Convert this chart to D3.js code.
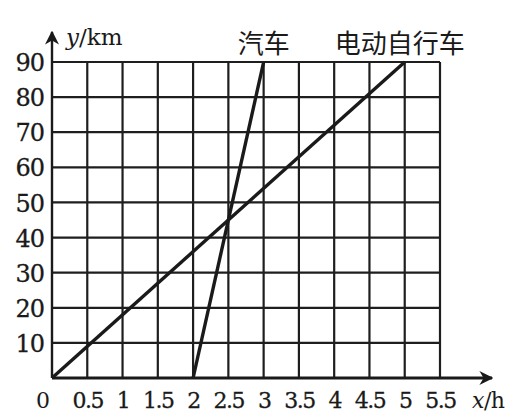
<!DOCTYPE html>
<html>
<head>
<meta charset="utf-8">
<style>
  body { margin: 0; background: #fff; }
  svg { display: block; }
  .axis .domain { display: none; }
  .grid line { stroke: #1e1e1e; stroke-width: 2.2; }
</style>
</head>
<body>
<script src="https://d3js.org/d3.v7.min.js"></script>
<script>
// data
var xTicks = [0.5, 1, 1.5, 2, 2.5, 3, 3.5, 4, 4.5, 5, 5.5];
var yTicks = [10, 20, 30, 40, 50, 60, 70, 80, 90];
var xTickLabels = ["0.5", "1", "1.5", "2", "2.5", "3", "3.5", "4", "4.5", "5", "5.5"];
var seriesNames = ["汽车", "电动自行车"];
var carX = [2, 3], carY = [0, 90];
var bikeX = [0, 5], bikeY = [0, 90];

var W = 516, H = 417;
var margin = {top: 62, right: 76, bottom: 39, left: 52},
    width = W - margin.left - margin.right,
    height = H - margin.top - margin.bottom;
var serif = "'DejaVu Serif', 'Liberation Serif', serif";

var svg = d3.select("body").append("svg")
    .attr("width", W)
    .attr("height", H);

svg.append("defs").append("marker")
    .attr("id", "arrow")
    .attr("viewBox", "0 0 10 10")
    .attr("refX", 9).attr("refY", 5)
    .attr("markerWidth", 14).attr("markerHeight", 14)
    .attr("markerUnits", "userSpaceOnUse")
    .attr("orient", "auto")
  .append("path")
    .attr("d", "M0,0 L10,5 L0,10 L3,5 Z")
    .attr("fill", "#1a1a1a");

var g = svg.append("g")
    .attr("transform", "translate(" + margin.left + "," + margin.top + ")");

var x = d3.scaleLinear().domain([0, 5.5]).range([0, width]);
var y = d3.scaleLinear().domain([0, 90]).range([height, 0]);

// grid
var grid = g.append("g").attr("class", "grid");
grid.selectAll(".v").data(xTicks).enter().append("line")
    .attr("x1", function(d) { return x(d); })
    .attr("x2", function(d) { return x(d); })
    .attr("y1", y(0)).attr("y2", y(90));
grid.selectAll(".h").data(yTicks).enter().append("line")
    .attr("x1", x(0)).attr("x2", x(5.5))
    .attr("y1", function(d) { return y(d); })
    .attr("y2", function(d) { return y(d); });

// axes with arrows
g.append("line")
    .attr("x1", x(0)).attr("y1", y(0))
    .attr("x2", x(0)).attr("y2", y(0) - 346)
    .attr("stroke", "#1a1a1a").attr("stroke-width", 2.4)
    .attr("marker-end", "url(#arrow)");
g.append("line")
    .attr("x1", x(0)).attr("y1", y(0))
    .attr("x2", x(0) + 440).attr("y2", y(0))
    .attr("stroke", "#1a1a1a").attr("stroke-width", 2.8)
    .attr("marker-end", "url(#arrow)");

// tick labels
g.append("g")
    .attr("class", "x axis")
    .attr("transform", "translate(0," + height + ")")
    .call(d3.axisBottom(x).tickValues(xTicks).tickSize(0)
      .tickFormat(function(d, i) { return xTickLabels[i]; }));

g.append("g")
    .attr("class", "y axis")
    .call(d3.axisLeft(y).tickValues(yTicks).tickSize(0).tickPadding(8));

g.selectAll(".axis").attr("font-family", serif);
g.selectAll(".x.axis").attr("font-size", 22);
g.selectAll(".y.axis").attr("font-size", 24);
g.selectAll(".tick text").attr("fill", "#1a1a1a")
    .attr("stroke", "#1a1a1a").attr("stroke-width", 0.3);
g.selectAll(".x .tick text").attr("dy", null).attr("y", 30).style("letter-spacing", "-1.5px");
g.selectAll(".y .tick text").attr("dy", "0.36em").style("letter-spacing", "-1px");

function serifText(px, py, size) {
  return g.append("text")
    .attr("x", px).attr("y", py)
    .style("font-family", serif).style("font-size", size + "px").style("fill", "#1a1a1a");
}

serifText(-9, height + 30, 22).attr("text-anchor", "middle").text("0");

// axis titles
var yt = serifText(14, -17, 23);
yt.append("tspan").style("font-style", "italic").text("y");
yt.append("tspan").text("/km");

var xt = serifText(width + 32, height + 30, 22).style("letter-spacing", "-0.5px");
xt.append("tspan").style("font-style", "italic").text("x");
xt.append("tspan").text("/h");

// lines
var line = d3.line().x(function(d) { return x(d[0]); }).y(function(d) { return y(d[1]); });
var series = [d3.zip(carX, carY), d3.zip(bikeX, bikeY)];
g.selectAll(".series").data(series).enter().append("path")
    .attr("d", line)
    .attr("fill", "none")
    .attr("stroke", "#1a1a1a")
    .attr("stroke-width", 3.4);

// series labels
var labelAt = [carX[1], bikeX[1]];
g.selectAll(".lbl").data(seriesNames).enter().append("text")
    .attr("x", function(d, i) { return x(labelAt[i]) - (i === 1 ? 5 : 0); })
    .attr("y", -9)
    .attr("text-anchor", "middle")
    .style("font-family", "'Noto Sans CJK SC', sans-serif")
    .style("font-size", "26px")
    .style("fill", "#1a1a1a")
    .text(function(d) { return d; });
</script>
</body>
</html>
